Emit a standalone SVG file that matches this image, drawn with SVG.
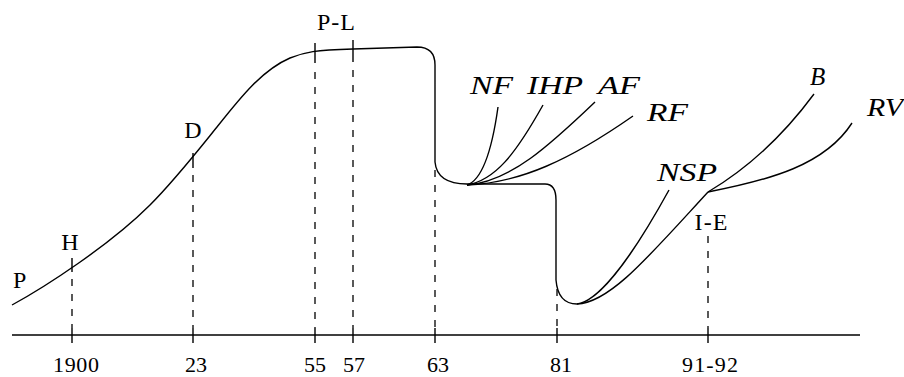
<svg xmlns="http://www.w3.org/2000/svg" width="904" height="377" viewBox="0 0 904 377">
<style>
.ln{fill:none;stroke:#000;stroke-width:1.4;stroke-linecap:butt}
.ds{fill:none;stroke:#000;stroke-width:1.3;stroke-dasharray:7 8}
.t{font-family:"Liberation Serif","Times New Roman",serif;font-size:24px;fill:#000}
.a{font-family:"Liberation Serif","Times New Roman",serif;font-size:22px;fill:#000}
.c{font-family:"Liberation Serif","Times New Roman",serif;font-size:25px;font-style:italic;fill:#000}
</style>
<rect width="904" height="377" fill="#fff"/>
<g id="connectors">
<path class="ln" d="M12,335 L860,335"/>
<path class="ln" d="M12,305 C45,287 110,245 150,205 C175,180 200,148 217,127 C240,98 262,70 290,58 C305,52 315,50 353,49 L417,47 Q435,47 435,65 L435,162 Q437,184 467,184 L545,184 Q556,184 556,200 L556,280 Q558,304 577,304"/>
<path class="ln" d="M577,304 C595,302 625,270 669,190"/>
<path class="ln" d="M577,304 C610,303 650,255 708,192"/>
<path class="ln" d="M708,192 C745,170 780,140 814,94"/>
<path class="ln" d="M708,192 C770,180 825,165 852,123"/>
<path class="ln" d="M467,185 C482,180 492,150 498,107"/>
<path class="ln" d="M467,185 C495,180 515,155 543,105"/>
<path class="ln" d="M467,185 C510,182 550,145 595,102"/>
<path class="ln" d="M467,185 C520,183 570,160 633,116"/>
<g id="ticks">
<path class="ln" d="M72,258 L72,272 M72,328 L72,343"/>
<path class="ds" d="M72,279 L72,328"/>
<path class="ln" d="M193,153 L193,168 M193,328 L193,343"/>
<path class="ds" d="M193,175 L193,328"/>
<path class="ln" d="M315,43 L315,63 M315,328 L315,343"/>
<path class="ds" d="M315,72 L315,328"/>
<path class="ln" d="M353,40 L353,62 M353,328 L353,343"/>
<path class="ds" d="M353,70 L353,328"/>
<path class="ln" d="M435,328 L435,343"/>
<path class="ds" d="M435,170 L435,328"/>
<path class="ln" d="M557,328 L557,343"/>
<path class="ds" d="M557,289 L557,328"/>
<path class="ln" d="M708,328 L708,343"/>
<path class="ds" d="M708,236 L708,328"/>
</g>
</g>
<g id="labels">
<text class="t" x="13" y="288">P</text>
<text class="t" x="70" y="250" text-anchor="middle">H</text>
<text class="t" x="193" y="138" text-anchor="middle">D</text>
<text class="t" x="336" y="30" text-anchor="middle" textLength="38">P-L</text>
<text class="t" x="711" y="230" text-anchor="middle" textLength="33">I-E</text>
<text class="c" x="470" y="94" textLength="43" lengthAdjust="spacingAndGlyphs">NF</text>
<text class="c" x="527" y="94" textLength="56" lengthAdjust="spacingAndGlyphs">IHP</text>
<text class="c" x="598" y="94" textLength="42" lengthAdjust="spacingAndGlyphs">AF</text>
<text class="c" x="647" y="121" textLength="41" lengthAdjust="spacingAndGlyphs">RF</text>
<text class="c" x="810" y="85">B</text>
<text class="c" x="867" y="116" textLength="36" lengthAdjust="spacingAndGlyphs">RV</text>
<text class="c" x="657" y="181" textLength="60" lengthAdjust="spacingAndGlyphs">NSP</text>
</g>
<g id="axis-labels">
<text class="a" x="76" y="372" text-anchor="middle" textLength="46">1900</text>
<text class="a" x="196" y="372" text-anchor="middle">23</text>
<text class="a" x="315" y="372" text-anchor="middle">55</text>
<text class="a" x="354" y="372" text-anchor="middle">57</text>
<text class="a" x="438" y="372" text-anchor="middle">63</text>
<text class="a" x="561" y="372" text-anchor="middle">81</text>
<text class="a" x="710" y="372" text-anchor="middle" textLength="56">91-92</text>
</g>
</svg>
